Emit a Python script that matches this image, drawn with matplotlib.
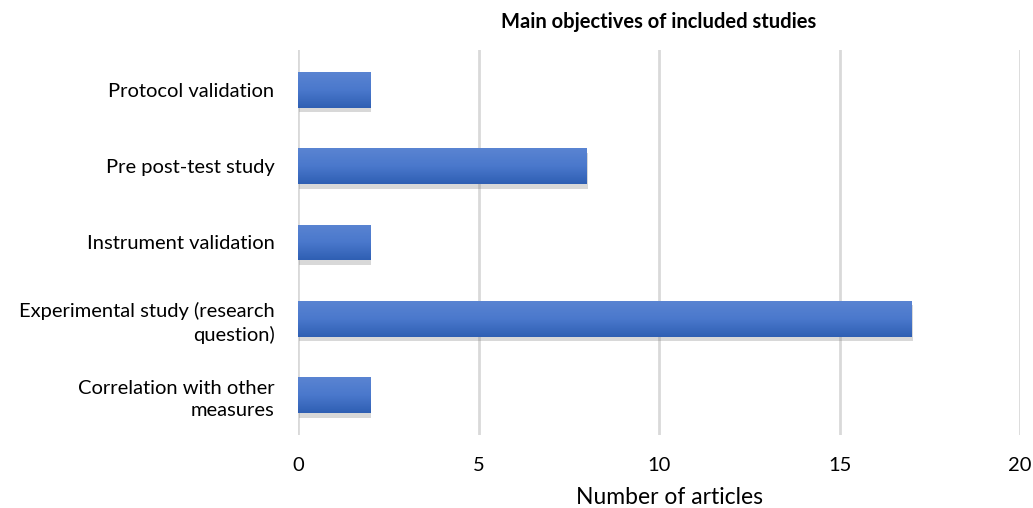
import numpy as np
import matplotlib

matplotlib.use('Agg')
import matplotlib.pyplot as plt

plt.rcParams['font.family'] = ['Lato', 'DejaVu Sans']

categorias = ['Correlation with other\nmeasures',
              'Experimental study (research\nquestion)',
              'Instrument validation',
              'Pre post-test study',
              'Protocol validation']
valores = [2, 17, 2, 8, 2]

fig = plt.figure(figsize=(10.33, 5.08), dpi=100)
ax = fig.add_axes([0.2885, 0.1437, 0.699, 0.758])

pos = np.arange(len(categorias))
altura = 0.47

# sombra
ax.barh(pos - 0.06, valores, height=altura, left=0.03, color='#7f7f7f',
        alpha=0.3, zorder=2)
barras = ax.barh(pos, valores, height=altura, color='#4472c4', zorder=3)

# gradiente nas barras
grad = np.linspace(0, 1, 100).reshape(-1, 1)
cmap = matplotlib.colors.LinearSegmentedColormap.from_list(
    'azul', ['#2f5fb3', '#4a78cc', '#5a84d2'])
for b in barras:
    x0, y0 = b.get_x(), b.get_y()
    w, h = b.get_width(), b.get_height()
    im = ax.imshow(grad, cmap=cmap, aspect='auto', origin='lower',
                   extent=[x0, x0 + w, y0, y0 + h], zorder=4)
    im.set_clip_path(b)

ax.set_xlim(0, 20)
ax.set_ylim(-0.52, 4.52)
ax.set_xticks([0, 5, 10, 15, 20])
ax.set_yticks(pos)
ax.set_yticklabels(categorias, ha='right', multialignment='right',
                   linespacing=1.35)
ax.tick_params(axis='y', length=0, pad=17, labelsize=14.5)
ax.tick_params(axis='x', length=0, pad=16, labelsize=14.5)
ax.grid(axis='x', color='#d9d9d9', linewidth=2, zorder=0)
ax.set_axisbelow(True)
for s in ax.spines.values():
    s.set_visible(False)

ax.set_xlabel('Number of articles', fontsize=16.5)
ax.xaxis.set_label_coords(0.515, -0.135)
ax.set_title('Main objectives of included studies', fontsize=14.5,
             fontweight='bold', pad=16)

fig.savefig('out.png', dpi=100)
